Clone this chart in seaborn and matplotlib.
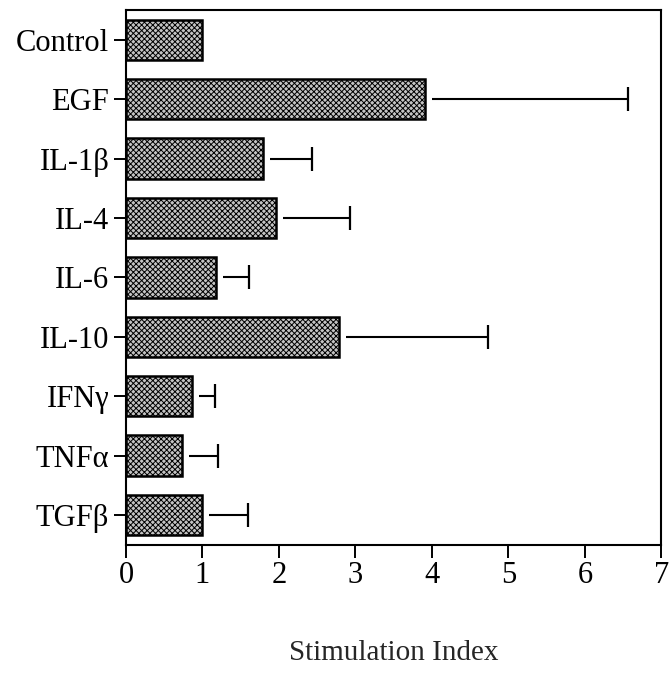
import matplotlib
matplotlib.use("Agg")
import matplotlib.pyplot as plt
import seaborn as sns
import pandas as pd

categories = ["Control", "EGF", "IL-1β", "IL-4", "IL-6", "IL-10", "IFNγ", "TNFα", "TGFβ"]
values = [1.00, 3.91, 1.79, 1.96, 1.18, 2.79, 0.87, 0.73, 0.99]
upper = [None, 6.56, 2.43, 2.93, 1.61, 4.74, 1.17, 1.20, 1.60]
xticks = [0, 1, 2, 3, 4, 5, 6, 7]

sns.set_theme(style="white")
plt.rcParams['font.family'] = ['Liberation Serif', 'DejaVu Serif']
plt.rcParams['hatch.linewidth'] = 0.7
plt.rcParams['hatch.color'] = '#222222'

df = pd.DataFrame({"cat": categories, "val": values})

fig = plt.figure(figsize=(6.7, 6.75), dpi=100)
ax = fig.add_axes([0.188, 0.193, 0.799, 0.792])

sns.barplot(data=df, x="val", y="cat", orient="h", ax=ax, width=0.68,
            color="#c4c4c4", edgecolor="black", linewidth=1.8, saturation=1)
for p in ax.patches:
    p.set_hatch("xxxxxx")

ypos = ax.get_yticks()
gap = 0.09
for y, v, u in zip(ypos, values, upper):
    if u is None:
        continue
    ax.plot([v + gap, u], [y, y], color="black", lw=1.5, solid_capstyle="butt")
    ax.plot([u], [y], marker="|", markersize=17, markeredgewidth=1.6, color="black")

ax.set_xlim(0, 7)
ax.set_ylim(len(categories) - 0.5, -0.5)
ax.set_xticks(xticks)
ax.set_xticklabels([str(t) for t in xticks])
ax.set_xlabel("Stimulation Index", fontsize=21, labelpad=36)
ax.set_ylabel("")
ax.tick_params(axis="both", labelsize=22, colors="black", direction="out",
               width=1.4, length=9, bottom=True, left=True, pad=3)
for s in ax.spines.values():
    s.set_visible(True)
    s.set_color("black")
    s.set_linewidth(1.5)

fig.savefig("out.png", dpi=100, facecolor="white")
